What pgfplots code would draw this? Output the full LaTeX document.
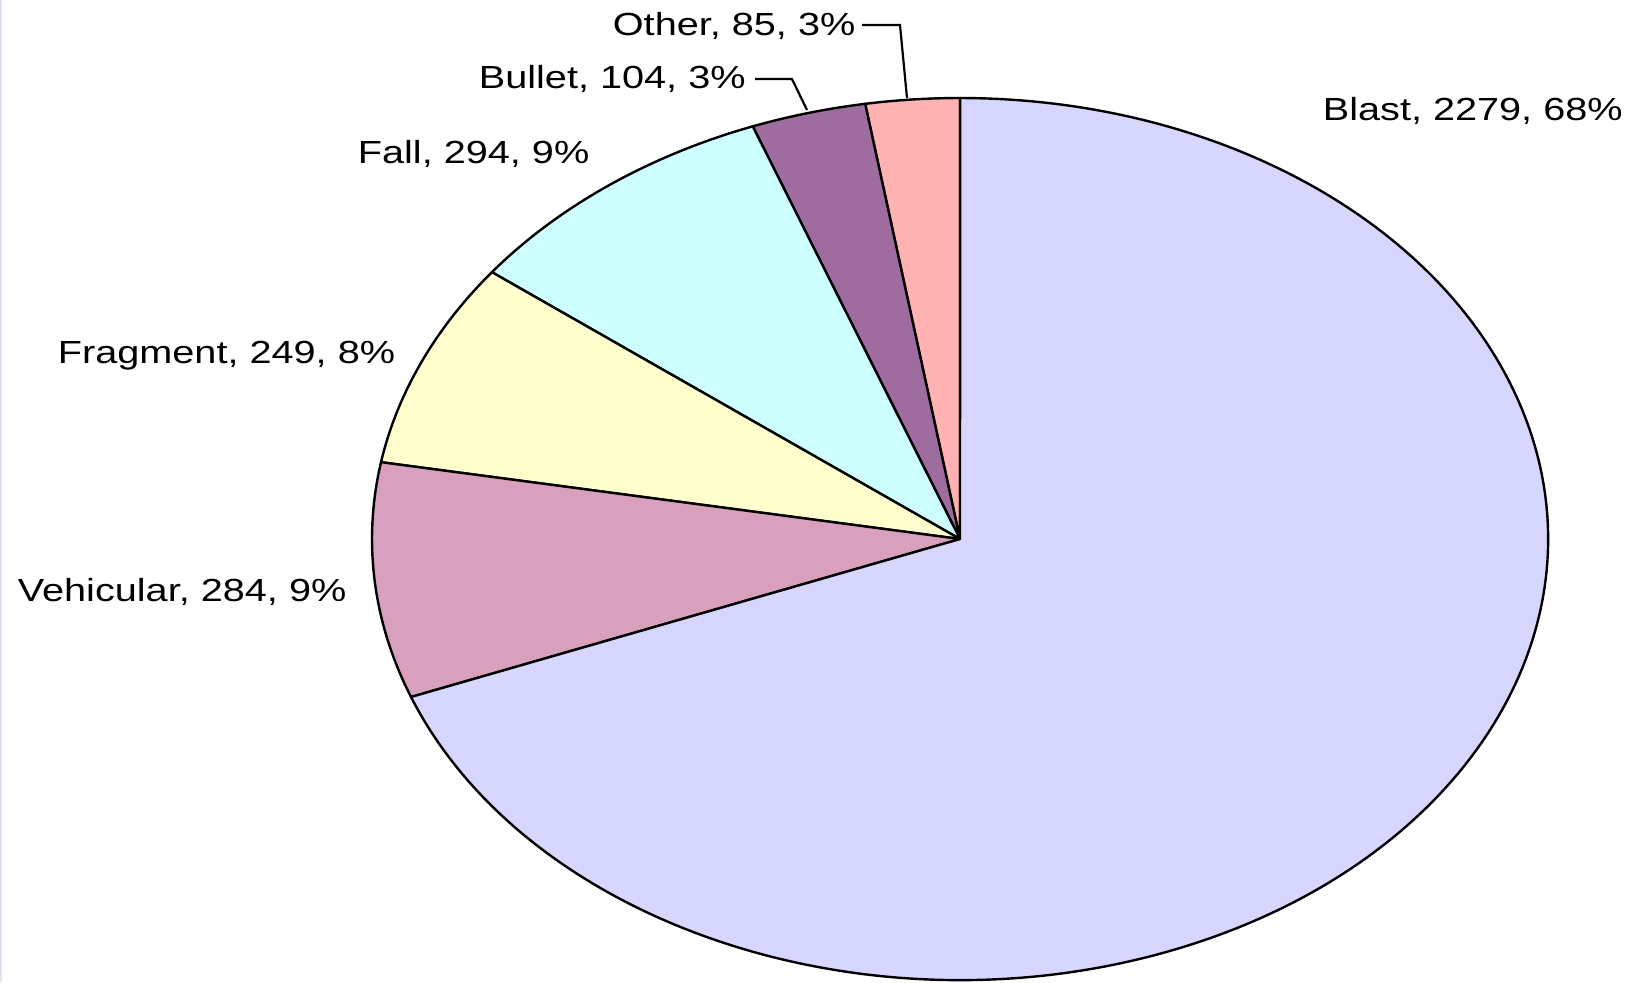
\documentclass[border=0pt]{standalone}
\usepackage{pgfplots}
\usepackage{pgfplotstable}
\pgfplotsset{compat=1.18}
\usepackage{fontspec}
\setmainfont{Liberation Sans}

% slice colours (average of the dotted fills)
\definecolor{cOther}{RGB}{255,178,178}
\definecolor{cBullet}{RGB}{158,108,158}
\definecolor{cFall}{RGB}{206,255,255}
\definecolor{cFragment}{RGB}{255,255,206}
\definecolor{cVehicular}{RGB}{216,160,188}
\definecolor{cBlast}{RGB}{214,214,255}
\definecolor{edgeblue}{RGB}{222,228,242}

% counter-clockwise from 12 o'clock
\pgfplotstableread[col sep=comma]{
name,value,color
Other,85,cOther
Bullet,104,cBullet
Fall,294,cFall
Fragment,249,cFragment
Vehicular,284,cVehicular
Blast,2279,cBlast
}\piedata

\tikzset{lbl/.style={anchor=base west, inner sep=0pt, xscale=1.24,
  font=\fontsize{9.1}{11}\selectfont}}

\begin{document}
\begin{tikzpicture}
\begin{axis}[
    x=0.1mm, y=0.1mm,
    scale only axis,
    xmin=0, xmax=1640,
    ymin=0, ymax=982,
    y dir=reverse,
    hide axis,
    clip=false,
]
\coordinate (bbA) at (axis cs:0,982);
\coordinate (bbB) at (axis cs:1640,0);
\draw[edgeblue, line width=0.25mm] (axis cs:1,0) -- (axis cs:1,982);

% total of the series
\pgfplotstablegetrowsof{\piedata}
\pgfmathtruncatemacro\nrows{\pgfplotsretval-1}
\xdef\total{0}
\pgfplotsforeachungrouped \i in {0,...,\nrows}{
  \pgfplotstablegetelem{\i}{value}\of\piedata
  \pgfmathsetmacro\tmp{\total+\pgfplotsretval}
  \xdef\total{\tmp}
}

% wedges, ellipse radii 588 x 441 px, centre (960,539)
\xdef\cum{90}
\pgfplotsforeachungrouped \i in {0,...,\nrows}{
  \pgfplotstablegetelem{\i}{value}\of\piedata \let\v\pgfplotsretval
  \pgfplotstablegetelem{\i}{color}\of\piedata \let\c\pgfplotsretval
  \pgfmathsetmacro\endang{\cum+360*(\v/\total)}
  \edef\temp{\noexpand\filldraw[fill=\c, draw=black, line width=0.24mm, line join=round]
    (axis cs:960,539) -- ++(\cum:58.8mm and 44.1mm)
    arc[start angle=\cum, end angle=\endang, x radius=58.8mm, y radius=44.1mm] -- cycle;}
  \temp
  \xdef\cum{\endang}
}

% leader lines
\draw[line width=0.22mm] (axis cs:862,25) -- (axis cs:900,25) -- (axis cs:907,98);
\draw[line width=0.22mm] (axis cs:755,79) -- (axis cs:792,79) -- (axis cs:807,110);

% labels
\node[lbl] at (axis cs:612,35) {Other, 85, 3\%};
\node[lbl] at (axis cs:478,88) {Bullet, 104, 3\%};
\node[lbl] at (axis cs:357,163) {Fall, 294, 9\%};
\node[lbl] at (axis cs:57,363) {Fragment, 249, 8\%};
\node[lbl] at (axis cs:17,601) {Vehicular, 284, 9\%};
\node[lbl] at (axis cs:1322,120) {Blast, 2279, 68\%};
\end{axis}
\pgfresetboundingbox
\path[use as bounding box] (bbA) rectangle (bbB);
\end{tikzpicture}
\end{document}
